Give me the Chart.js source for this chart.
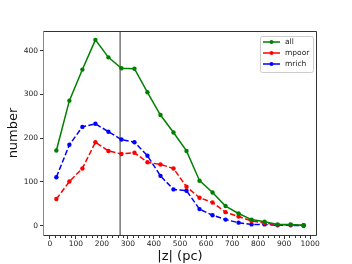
<!DOCTYPE html>
<html><head><meta charset="utf-8">
<script src="https://cdn.jsdelivr.net/npm/chart.js@4"></script>
<style>html,body{margin:0;padding:0;background:#fff}#c{display:block}</style>
</head><body>
<canvas id="c" width="352" height="264"></canvas>
<script>
const zBins = [25,75,125,175,225,275,325,375,425,475,525,575,625,675,725,775,825,875,925,975];
const allCounts   = [172,286,357,425,385,360,359,305,253,213,171,103,76,45,28,14,9,3,3,1];
const mpoorCounts = [61,101,131,191,171,164,167,145,140,131,89,64,53,31,21,11,6,2,2,1];
const mrichCounts = [111,185,226,233,215,197,191,160,114,83,80,38,24,14,7,3,3,1,1,0];
const seriesLabels = ['all','mpoor','mrich'];
const xTickStep = 100;
const yTickStep = 100;
const xMinorStep = 20;
const cutZ = 270;

const colors = ['#008000','#ff0000','#0000ff'];
const tickFont = {family:'DejaVu Sans', size:7.5};

const refLine = {
  id:'refLine',
  beforeDatasetsDraw(chart){
    const {ctx, chartArea:a, scales:{x}} = chart;
    const px = x.getPixelForValue(cutZ);
    ctx.save();
    ctx.strokeStyle='#808080'; ctx.lineWidth=1.6;
    ctx.beginPath(); ctx.moveTo(px,a.top); ctx.lineTo(px,a.bottom); ctx.stroke();
    ctx.restore();
  }
};
const frame = {
  id:'frame',
  afterDraw(chart){
    const {ctx, chartArea:a, scales:{x}} = chart;
    ctx.save();
    ctx.lineWidth=1;
    ctx.strokeStyle='#333';
    ctx.beginPath();
    ctx.moveTo(a.left,a.top+0.5); ctx.lineTo(a.right+0.5,a.top+0.5);
    ctx.lineTo(a.right+0.5,a.bottom+0.5); ctx.lineTo(a.left,a.bottom+0.5);
    ctx.stroke();
    ctx.strokeStyle='#888';
    ctx.beginPath(); ctx.moveTo(a.left-0.5,a.top); ctx.lineTo(a.left-0.5,a.bottom+1); ctx.stroke();
    // minor ticks
    ctx.strokeStyle='#333';
    ctx.beginPath();
    for(let v=0; v<=1000; v+=xMinorStep){
      if(v % xTickStep === 0) continue;
      const px = Math.round(x.getPixelForValue(v))+0.5;
      ctx.moveTo(px,a.bottom+1); ctx.lineTo(px,a.bottom+3);
    }
    ctx.stroke();
    // legend
    const bx = a.right-56, by = a.top+5, bw = 53, bh = 36;
    ctx.fillStyle='rgba(255,255,255,0.85)';
    ctx.strokeStyle='#cccccc';
    ctx.beginPath(); ctx.roundRect(bx+0.5,by+0.5,bw,bh,2); ctx.fill(); ctx.stroke();
    ctx.font = '7.5px "DejaVu Sans"';
    ctx.textBaseline='middle'; ctx.textAlign='left';
    chart.data.datasets.forEach((ds,i)=>{
      const yy = by+6+i*11;
      ctx.strokeStyle=ds.borderColor; ctx.lineWidth=1.5;
      ctx.beginPath(); ctx.moveTo(bx+3,yy); ctx.lineTo(bx+20,yy); ctx.stroke();
      ctx.fillStyle=ds.borderColor;
      ctx.beginPath(); ctx.arc(bx+11.5,yy,2,0,Math.PI*2); ctx.fill();
      ctx.fillStyle='#222';
      ctx.fillText(ds.label,bx+25,yy+0.5);
    });
    ctx.restore();
  }
};

const dataSets = [allCounts, mpoorCounts, mrichCounts].map((arr,i)=>({
  label: seriesLabels[i],
  data: zBins.map((z,j)=>({x:z,y:arr[j]})),
  borderColor: colors[i],
  backgroundColor: colors[i],
  borderWidth: 1.5,
  borderDash: i===0 ? [] : [5.5,2.4],
  pointRadius: 2.2,
  pointBorderWidth: 0,
  pointHoverRadius: 2.2,
  tension: 0,
  fill: false
}));

new Chart(document.getElementById('c'), {
  type:'line',
  data:{datasets:dataSets},
  options:{
    responsive:false, animation:false, devicePixelRatio:1,
    layout:{padding:{top:31,right:36,left:0,bottom:0}},
    plugins:{legend:{display:false}, tooltip:{enabled:false}},
    scales:{
      x:{type:'linear', min:-22.5, max:1022.5,
        ticks:{stepSize:xTickStep, includeBounds:false, font:tickFont, color:'#222', padding:1, maxRotation:0, autoSkip:false, callback:v=>String(v)},
        grid:{drawOnChartArea:false, drawTicks:true, tickLength:4, tickColor:'#333'},
        border:{display:false},
        title:{display:true, text:'|z| (pc)', font:{family:'DejaVu Sans', size:13}, color:'#111', padding:{top:0,bottom:0}},
        afterFit(s){ s.height = 29; }
      },
      y:{type:'linear', min:-21.2, max:445.2,
        ticks:{stepSize:yTickStep, includeBounds:false, font:tickFont, color:'#222', padding:2, callback:v=>String(v)},
        grid:{drawOnChartArea:false, drawTicks:true, tickLength:4, tickColor:'#333'},
        border:{display:false},
        title:{display:true, text:'number', font:{family:'DejaVu Sans', size:13}, color:'#111', padding:{top:6,bottom:0}},
        afterFit(s){ s.width = 44; }
      }
    }
  },
  plugins:[refLine, frame]
});
</script>
</body></html>
